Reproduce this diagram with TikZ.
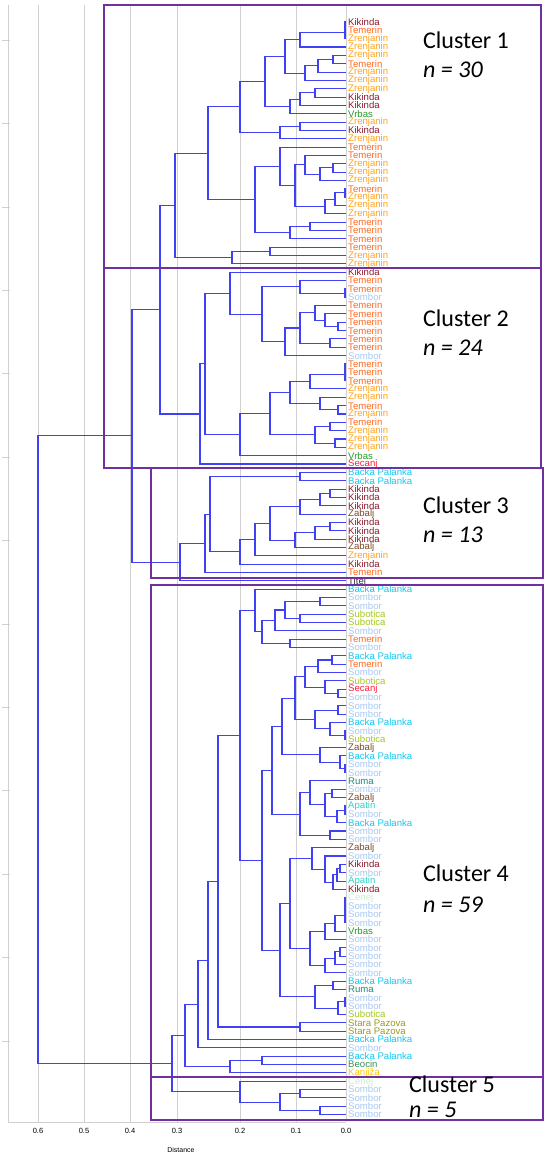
\documentclass[tikz,border=0pt]{standalone}
\usepackage{fontspec}
\setmainfont{Liberation Sans}
\newfontfamily\calib{Carlito}
\usetikzlibrary{calc}
\definecolor{kik}{HTML}{8B1C2C}
\definecolor{tem}{HTML}{FF6A20}
\definecolor{zre}{HTML}{FFA41C}
\definecolor{vrb}{HTML}{2A9A2A}
\definecolor{som}{HTML}{A9C9F2}
\definecolor{sec}{HTML}{FF1F3D}
\definecolor{bpa}{HTML}{14C8F0}
\definecolor{zab}{HTML}{7A4B2B}
\definecolor{tit}{HTML}{333333}
\definecolor{sub}{HTML}{A5C81E}
\definecolor{rum}{HTML}{1F8A7C}
\definecolor{apa}{HTML}{30D5C8}
\definecolor{spa}{HTML}{9C9A1E}
\definecolor{beo}{HTML}{3A8F5A}
\definecolor{kan}{HTML}{FFC60A}
\definecolor{lgr}{HTML}{C8F0C8}
\definecolor{treeblue}{HTML}{4040F5}
\definecolor{boxpurple}{HTML}{7030A0}
\definecolor{gridgray}{HTML}{D0D0D0}
\newcommand\lf[3]{%
  \coordinate (p#1) at (346,{22+(#1-1)*8.34});
  \node[lab,text=#3] (L#1) at (348,{22+(#1-1)*8.34}) {#2};}
\newcommand\mg[4]{%
  \path let \p1=(#2), \p2=(#3) in coordinate (#1) at ({#4pt},{0.5*\y1+0.5*\y2});
  \draw[br] (#2) -| (#1) (#3) -| (#1);}
\begin{document}
\begin{tikzpicture}[x=1pt,y=-1pt,
  br/.style={draw=treeblue,line width=1.05pt},
  lab/.style={anchor=west,inner sep=0pt,font=\fontsize{9.6}{9.6}\selectfont},
  clbox/.style={draw=boxpurple,line width=1.6pt},
  cltxt/.style={anchor=west,inner sep=0pt,font=\calib\fontsize{24}{24}\selectfont},
  grid/.style={draw=gridgray,line width=0.6pt},
  tick/.style={anchor=north,inner sep=0pt,font=\fontsize{7.5}{7.5}\selectfont}]
\useasboundingbox (0,0) rectangle (550,1161);
\fill[white] (0,0) rectangle (550,1161);
% grid and axis
\foreach \xx/\t [count=\i] in {346/0.0,296/0.1,240/0.2,177/0.3,130/0.4,84/0.5,38/0.6}{
  \draw[grid] (\xx,5) -- (\xx,1122);
  \node[tick] (t\i) at (\xx,1128) {\t};}
\draw[grid] (8,5) -- (8,1122);
\draw[grid] (8,1122) -- (346,1122);
\foreach \k in {0,...,12}{\draw[grid] (2,{40+\k*83.4}) -- (10,{40+\k*83.4});}
\node[inner sep=0pt,font=\fontsize{7}{7}\selectfont] (dist) at (181,1150) {Distance};
% leaves
\lf{1}{Kikinda}{kik}\lf{2}{Temerin}{tem}\lf{3}{Zrenjanin}{zre}\lf{4}{Zrenjanin}{zre}
\lf{5}{Zrenjanin}{zre}\lf{6}{Temerin}{tem}\lf{7}{Zrenjanin}{zre}\lf{8}{Zrenjanin}{zre}
\lf{9}{Zrenjanin}{zre}\lf{10}{Kikinda}{kik}\lf{11}{Kikinda}{kik}\lf{12}{Vrbas}{vrb}
\lf{13}{Zrenjanin}{zre}\lf{14}{Kikinda}{kik}\lf{15}{Zrenjanin}{zre}\lf{16}{Temerin}{tem}
\lf{17}{Temerin}{tem}\lf{18}{Zrenjanin}{zre}\lf{19}{Zrenjanin}{zre}\lf{20}{Zrenjanin}{zre}
\lf{21}{Temerin}{tem}\lf{22}{Zrenjanin}{zre}\lf{23}{Zrenjanin}{zre}\lf{24}{Zrenjanin}{zre}
\lf{25}{Temerin}{tem}\lf{26}{Temerin}{tem}\lf{27}{Temerin}{tem}\lf{28}{Temerin}{tem}
\lf{29}{Zrenjanin}{zre}\lf{30}{Zrenjanin}{zre}
\lf{31}{Kikinda}{kik}\lf{32}{Temerin}{tem}\lf{33}{Temerin}{tem}\lf{34}{Sombor}{som}
\lf{35}{Temerin}{tem}\lf{36}{Temerin}{tem}\lf{37}{Temerin}{tem}\lf{38}{Temerin}{tem}
\lf{39}{Temerin}{tem}\lf{40}{Temerin}{tem}\lf{41}{Sombor}{som}\lf{42}{Temerin}{tem}
\lf{43}{Temerin}{tem}\lf{44}{Temerin}{tem}\lf{45}{Zrenjanin}{zre}\lf{46}{Zrenjanin}{zre}
\lf{47}{Temerin}{tem}\lf{48}{Zrenjanin}{zre}\lf{49}{Temerin}{tem}\lf{50}{Zrenjanin}{zre}
\lf{51}{Zrenjanin}{zre}\lf{52}{Zrenjanin}{zre}\lf{53}{Vrbas}{vrb}\lf{54}{Secanj}{sec}
\lf{55}{Backa Palanka}{bpa}\lf{56}{Backa Palanka}{bpa}\lf{57}{Kikinda}{kik}\lf{58}{Kikinda}{kik}
\lf{59}{Kikinda}{kik}\lf{60}{Zabalj}{zab}\lf{61}{Kikinda}{kik}\lf{62}{Kikinda}{kik}
\lf{63}{Kikinda}{kik}\lf{64}{Zabalj}{zab}\lf{65}{Zrenjanin}{zre}\lf{66}{Kikinda}{kik}
\lf{67}{Temerin}{tem}\lf{68}{Titel}{tit}
\lf{69}{Backa Palanka}{bpa}\lf{70}{Sombor}{som}\lf{71}{Sombor}{som}\lf{72}{Subotica}{sub}
\lf{73}{Subotica}{sub}\lf{74}{Sombor}{som}\lf{75}{Temerin}{tem}\lf{76}{Sombor}{som}
\lf{77}{Backa Palanka}{bpa}\lf{78}{Temerin}{tem}\lf{79}{Sombor}{som}\lf{80}{Subotica}{sub}
\lf{81}{Secanj}{sec}\lf{82}{Sombor}{som}\lf{83}{Sombor}{som}\lf{84}{Sombor}{som}
\lf{85}{Backa Palanka}{bpa}\lf{86}{Sombor}{som}\lf{87}{Subotica}{sub}\lf{88}{Zabalj}{zab}
\lf{89}{Backa Palanka}{bpa}\lf{90}{Sombor}{som}\lf{91}{Sombor}{som}\lf{92}{Ruma}{rum}
\lf{93}{Sombor}{som}\lf{94}{Zabalj}{zab}\lf{95}{Apatin}{apa}\lf{96}{Sombor}{som}
\lf{97}{Backa Palanka}{bpa}\lf{98}{Sombor}{som}\lf{99}{Sombor}{som}\lf{100}{Zabalj}{zab}
\lf{101}{Sombor}{som}\lf{102}{Kikinda}{kik}\lf{103}{Sombor}{som}\lf{104}{Apatin}{apa}
\lf{105}{Kikinda}{kik}\lf{106}{Čenej}{lgr}\lf{107}{Sombor}{som}\lf{108}{Sombor}{som}
\lf{109}{Sombor}{som}\lf{110}{Vrbas}{vrb}\lf{111}{Sombor}{som}\lf{112}{Sombor}{som}
\lf{113}{Sombor}{som}\lf{114}{Sombor}{som}\lf{115}{Sombor}{som}\lf{116}{Backa Palanka}{bpa}
\lf{117}{Ruma}{rum}\lf{118}{Sombor}{som}\lf{119}{Sombor}{som}\lf{120}{Subotica}{sub}
\lf{121}{Stara Pazova}{spa}\lf{122}{Stara Pazova}{spa}\lf{123}{Backa Palanka}{bpa}\lf{124}{Sombor}{som}
\lf{125}{Backa Palanka}{bpa}\lf{126}{Beocin}{beo}\lf{127}{Kanjiža}{kan}
\lf{128}{Čenej}{lgr}\lf{129}{Sombor}{som}\lf{130}{Sombor}{som}\lf{131}{Sombor}{som}\lf{132}{Sombor}{som}
% tree: cluster 1
\mg{a1}{p1}{p2}{345}\mg{a2}{a1}{p3}{345}\mg{a3}{a2}{p4}{300}
\mg{a4}{p5}{p6}{333}\mg{a5}{a4}{p7}{318}\mg{a6}{a5}{p8}{305}\mg{a7}{a3}{a6}{285}
\mg{a8}{p9}{p10}{315}\mg{a9}{a8}{p11}{300}\mg{a10}{a9}{p12}{290}\mg{a11}{a7}{a10}{265}
\mg{a12}{p13}{p14}{300}\mg{a13}{a12}{p15}{280}\mg{a14}{a11}{a13}{240}
\mg{a15}{p18}{p19}{333}\mg{a16}{a15}{p20}{320}\mg{a17}{p17}{a16}{305}
\mg{a18}{p21}{p22}{345}\mg{a19}{a18}{p23}{335}\mg{a20}{a19}{p24}{325}
\mg{a21}{a17}{a20}{295}\mg{a22}{p16}{a21}{280}
\mg{a23}{p25}{p26}{310}\mg{a24}{a23}{p27}{290}\mg{a25}{a22}{a24}{255}
\mg{a26}{a14}{a25}{208}\mg{a27}{p28}{p29}{270}\mg{a28}{a27}{p30}{232}\mg{c1}{a26}{a28}{175}
% cluster 2
\mg{b1}{p33}{p34}{345}\mg{b2}{p32}{b1}{300}
\mg{b3}{p37}{p38}{338}\mg{b4}{p36}{b3}{325}\mg{b5}{p35}{b4}{315}
\mg{b6}{p39}{p40}{330}\mg{b7}{b5}{b6}{300}\mg{b8}{b7}{p41}{285}
\mg{b9}{b2}{b8}{262}\mg{b10}{p31}{b9}{230}
\mg{b11}{p42}{p43}{345}\mg{b12}{b11}{p44}{345}\mg{b13}{b12}{p45}{310}
\mg{b14}{p47}{p48}{338}\mg{b15}{p46}{b14}{320}\mg{b16}{b13}{b15}{290}
\mg{b17}{p49}{p50}{330}\mg{b18}{p51}{p52}{335}\mg{b19}{b17}{b18}{315}
\mg{b20}{b16}{b19}{270}\mg{b21}{b20}{p53}{240}
\mg{b22}{b10}{b21}{205}\mg{c2}{b22}{p54}{200}
% cluster 3 and Titel
\mg{d1}{p55}{p56}{300}\mg{d2}{p57}{p58}{330}\mg{d3}{d2}{p59}{320}\mg{d4}{d3}{p60}{300}
\mg{d5}{p61}{p62}{330}\mg{d6}{d5}{p63}{315}\mg{d7}{d6}{p64}{295}\mg{d8}{d4}{d7}{270}
\mg{d9}{d8}{p65}{255}\mg{d10}{d9}{p66}{240}\mg{d11}{d1}{d10}{210}\mg{c3}{d11}{p67}{205}
\mg{ct}{c3}{p68}{180}
\mg{A}{c1}{c2}{160}\mg{B}{A}{ct}{132}
% cluster 4
\mg{e1}{p70}{p71}{320}\mg{e2}{p72}{p73}{300}\mg{e3}{e1}{e2}{285}\mg{e4}{e3}{p74}{275}
\mg{e5}{p75}{p76}{290}\mg{e6}{e4}{e5}{262}\mg{e7}{p69}{e6}{255}
\mg{e8}{p77}{p78}{332}\mg{e9}{e8}{p79}{318}\mg{e10}{p81}{p82}{338}\mg{e11}{p80}{e10}{325}
\mg{e12}{e9}{e11}{305}\mg{e13}{p83}{p84}{338}\mg{e14}{p86}{p87}{345}\mg{e15}{p85}{e14}{330}
\mg{e16}{e13}{e15}{315}\mg{e17}{e12}{e16}{295}
\mg{e18}{p90}{p91}{345}\mg{e19}{p89}{e18}{340}\mg{e20}{p88}{e19}{320}\mg{e21}{e17}{e20}{282}
\mg{e22}{p95}{p96}{345}\mg{e23}{e22}{p97}{337}\mg{e24}{p93}{p94}{332}\mg{e25}{e24}{e23}{325}
\mg{e26}{p92}{e25}{310}\mg{e27}{p98}{p99}{330}\mg{e28}{e26}{e27}{300}\mg{e29}{e21}{e28}{272}
\mg{e30}{p102}{p103}{340}\mg{e31}{e30}{p104}{337}\mg{e32}{e31}{p105}{333}\mg{e33}{p101}{e32}{325}
\mg{e34}{p100}{e33}{312}
\mg{e35}{p106}{p107}{345}\mg{e36}{e35}{p108}{345}\mg{e37}{e36}{p109}{345}\mg{e38}{e37}{p110}{335}
\mg{e39}{e38}{p111}{325}\mg{e40}{p112}{p113}{340}\mg{e41}{e40}{p114}{335}\mg{e42}{e41}{p115}{325}
\mg{e43}{e39}{e42}{310}\mg{e44}{e34}{e43}{290}
\mg{e45}{p116}{p117}{333}\mg{e46}{p118}{p119}{345}\mg{e47}{e46}{p120}{338}\mg{e48}{e45}{e47}{315}
\mg{e49}{e44}{e48}{280}\mg{e50}{e29}{e49}{262}\mg{e51}{e7}{e50}{240}
\mg{e52}{p121}{p122}{300}\mg{e53}{e51}{e52}{218}\mg{e54}{e53}{p123}{208}\mg{e55}{e54}{p124}{198}
\mg{e56}{p125}{p126}{262}\mg{e57}{e56}{p127}{230}\mg{c4}{e55}{e57}{185}
% cluster 5
\mg{f1}{p129}{p130}{300}\mg{f2}{p131}{p132}{320}\mg{f3}{f1}{f2}{280}\mg{c5}{p128}{f3}{240}
\mg{G}{c4}{c5}{172}\mg{R}{B}{G}{38}
% cluster boxes
\draw[clbox] (104,5) rectangle (541,268);
\draw[clbox] (104,268) rectangle (541,468);
\draw[clbox] (151,468) rectangle (543,578);
\draw[clbox] (151,585) rectangle (543,1077);
\draw[clbox] (151,1077) rectangle (543,1120);
\node[cltxt] (k1) at (423,40) {Cluster 1};
\node[cltxt] (n1) at (423,70) {\itshape n = 30};
\node[cltxt] (k2) at (423,318) {Cluster 2};
\node[cltxt] (n2) at (423,348) {\itshape n = 24};
\node[cltxt] (k3) at (423,505) {Cluster 3};
\node[cltxt] (n3) at (423,535) {\itshape n = 13};
\node[cltxt] (k4) at (423,873) {Cluster 4};
\node[cltxt] (n4) at (423,905) {\itshape n = 59};
\node[cltxt] (k5) at (409,1084) {Cluster 5};
\node[cltxt] (n5) at (409,1110) {\itshape n = 5};
\end{tikzpicture}
\end{document}
